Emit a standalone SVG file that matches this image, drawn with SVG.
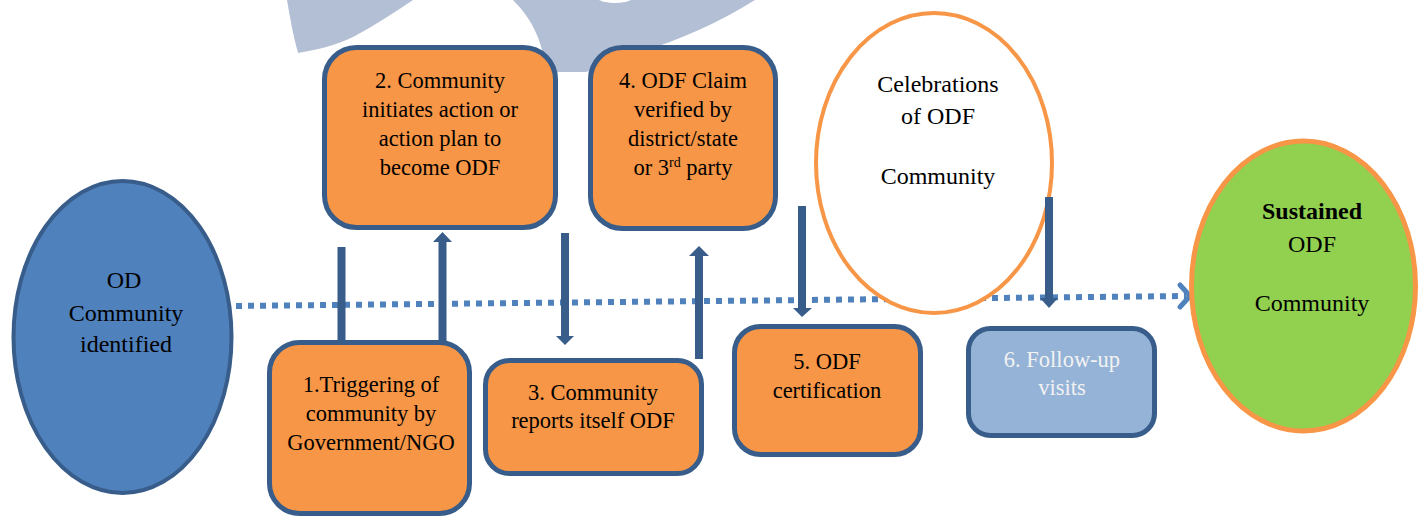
<svg xmlns="http://www.w3.org/2000/svg" width="1424" height="516" viewBox="0 0 1424 516">
<style>
.box{fill:#F79646;stroke:#385D8A;stroke-width:5}
.box6{fill:#95B3D7;stroke:#385D8A;stroke-width:5}
.t{font-family:"Liberation Serif","Times New Roman",serif;font-size:22.5px;fill:#000;text-anchor:middle}
.te{font-family:"Liberation Serif","Times New Roman",serif;font-size:24px;fill:#000;text-anchor:middle}
.tw{fill:#F2F2F2}
.shaft{stroke:#385D8A;stroke-width:8;fill:none}
.head{fill:#385D8A}
</style>
<rect width="1424" height="516" fill="#fff"/>
<g id="watermark" fill="#B3BFD4">
<path d="M287,0 L413,0 C395,12 375,25 355,36 C335,46 315,50 298,53 C293,35 290,18 287,0 Z"/>
<path d="M513,0 L755,0 C720,22 680,40 640,52 C620,60 600,68 586,72 L546,72 C543,45 535,22 513,0 Z"/>
<ellipse cx="615" cy="-10" rx="25" ry="13" fill="#fff"/>
</g>
<g id="flow-line">
<line x1="236" y1="306" x2="1186" y2="296" stroke="#4F81BD" stroke-width="6" stroke-dasharray="6 6"/>
<polyline points="1180,285 1190,296 1180,307" fill="none" stroke="#4F81BD" stroke-width="5" stroke-linecap="round" stroke-linejoin="round"/>
</g>
<g id="node-od">
<ellipse cx="122.5" cy="337" rx="109" ry="156" fill="#4F81BD" stroke="#385D8A" stroke-width="4"/>
<text class="te" x="124" y="288">OD</text>
<text class="te" x="126" y="321">Community</text>
<text class="te" x="126" y="352">identified</text>
</g>
<g id="node-1">
<rect class="box" x="269.5" y="342.5" width="200" height="171" rx="30"/>
<text class="t" x="371" y="392">1.Triggering of</text>
<text class="t" x="371" y="421">community by</text>
<text class="t" x="371" y="450">Government/NGO</text>
</g>
<g id="node-2">
<rect class="box" x="324.5" y="47.5" width="231" height="180" rx="32"/>
<text class="t" x="440" y="88">2. Community</text>
<text class="t" x="440" y="117">initiates action or</text>
<text class="t" x="440" y="146">action plan to</text>
<text class="t" x="440" y="175">become ODF</text>
</g>
<g id="node-3">
<rect class="box" x="485.5" y="360.5" width="216" height="113" rx="24"/>
<text class="t" x="593" y="400">3. Community</text>
<text class="t" x="593" y="428">reports itself ODF</text>
</g>
<g id="node-4">
<rect class="box" x="590.5" y="47.5" width="185" height="181" rx="32"/>
<text class="t" x="683" y="88">4. ODF Claim</text>
<text class="t" x="683" y="117">verified by</text>
<text class="t" x="683" y="146">district/state</text>
<text class="t" x="683" y="175">or 3<tspan font-size="14" dy="-8">rd</tspan><tspan dy="8"> party</tspan></text>
</g>
<g id="node-5">
<rect class="box" x="734.5" y="326.5" width="186" height="128" rx="26"/>
<text class="t" x="827" y="369">5. ODF</text>
<text class="t" x="827" y="398">certification</text>
</g>
<g id="node-celebrations">
<ellipse cx="934" cy="163" rx="118" ry="150" fill="#fff" stroke="#F79646" stroke-width="4"/>
<text class="te" x="938" y="92">Celebrations</text>
<text class="te" x="938" y="124">of ODF</text>
<text class="te" x="938" y="184">Community</text>
</g>
<g id="node-6">
<rect class="box6" x="968.5" y="328.5" width="186" height="107" rx="22"/>
<text class="t tw" x="1062" y="367">6. Follow-up</text>
<text class="t tw" x="1062" y="395">visits</text>
</g>
<g id="node-sustained">
<ellipse cx="1303.5" cy="286" rx="112" ry="145" fill="#92D050" stroke="#F79646" stroke-width="5"/>
<text class="te" x="1312" y="219" font-weight="bold">Sustained</text>
<text class="te" x="1312" y="252">ODF</text>
<text class="te" x="1312" y="311">Community</text>
</g>
<g id="connectors">
<line class="shaft" x1="341.5" y1="247" x2="341.5" y2="341"/>
<line class="shaft" x1="442.5" y1="341" x2="442.5" y2="240"/>
<polygon class="head" points="433,242 442.5,232 452,242"/>
<line class="shaft" x1="565" y1="233" x2="565" y2="337"/>
<polygon class="head" points="556,336 565,345 574,336"/>
<line class="shaft" x1="699" y1="359" x2="699" y2="254"/>
<polygon class="head" points="689,256 699,246 709,256"/>
<line class="shaft" x1="802" y1="206" x2="802" y2="309"/>
<polygon class="head" points="793,308 802,317 812,308"/>
<line class="shaft" x1="1049" y1="197" x2="1049" y2="299"/>
<polygon class="head" points="1040,298 1049,308 1058,298"/>
</g>
</svg>
